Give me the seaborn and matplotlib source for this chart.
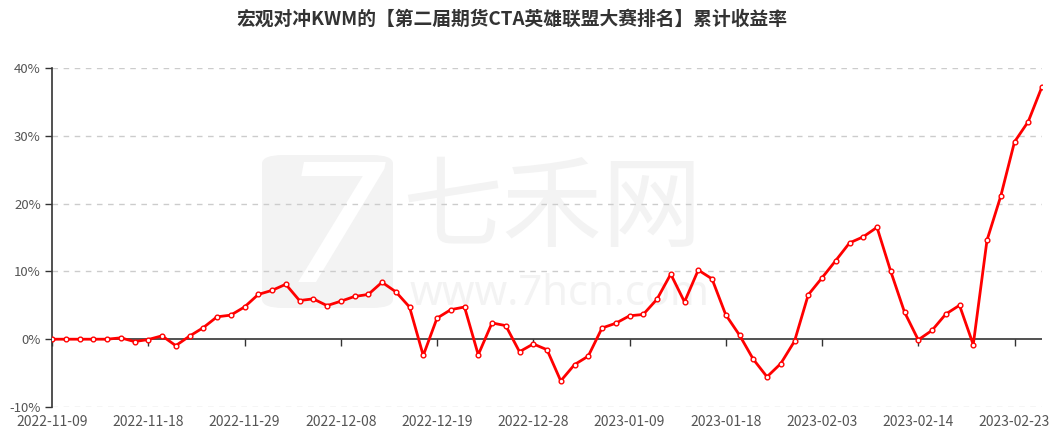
import matplotlib
matplotlib.use("Agg")
import matplotlib.pyplot as plt
from matplotlib.patches import FancyBboxPatch
import seaborn as sns
import pandas as pd
import numpy as np

dates = ["2022-11-09","2022-11-10","2022-11-11","2022-11-14","2022-11-15","2022-11-16","2022-11-17","2022-11-18",
         "2022-11-21","2022-11-22","2022-11-23","2022-11-24","2022-11-25","2022-11-28","2022-11-29",
         "2022-11-30","2022-12-01","2022-12-02","2022-12-05","2022-12-06","2022-12-07","2022-12-08",
         "2022-12-09","2022-12-12","2022-12-13","2022-12-14","2022-12-15","2022-12-16","2022-12-19",
         "2022-12-20","2022-12-21","2022-12-22","2022-12-23","2022-12-26","2022-12-27","2022-12-28",
         "2022-12-29","2022-12-30","2023-01-03","2023-01-04","2023-01-05","2023-01-06","2023-01-09",
         "2023-01-10","2023-01-11","2023-01-12","2023-01-13","2023-01-16","2023-01-17","2023-01-18",
         "2023-01-19","2023-01-20","2023-01-30","2023-01-31","2023-02-01","2023-02-02","2023-02-03",
         "2023-02-06","2023-02-07","2023-02-08","2023-02-09","2023-02-10","2023-02-13","2023-02-14",
         "2023-02-15","2023-02-16","2023-02-17","2023-02-20","2023-02-21","2023-02-22","2023-02-23",
         "2023-02-24","2023-02-27"]

returns = [0.0, 0.0, 0.0, 0.0, 0.0, 0.2, -0.35, -0.05,
           0.5, -0.95, 0.45, 1.7, 3.3, 3.55, 4.75,
           6.6, 7.2, 8.1, 5.7, 5.95, 4.95, 5.6,
           6.3, 6.6, 8.4, 7.0, 4.75, -2.4, 3.1,
           4.35, 4.75, -2.3, 2.4, 2.0, -1.85, -0.7,
           -1.55, -6.15, -3.75, -2.5, 1.65, 2.35, 3.45,
           3.65, 5.9, 9.6, 5.5, 10.2, 8.9, 3.6,
           0.6, -2.95, -5.55, -3.6, -0.3, 6.55, 9.05,
           11.6, 14.2, 15.1, 16.5, 10.0, 4.0, -0.1,
           1.3, 3.7, 5.0, -0.8, 14.6, 21.1, 29.1,
           32.1, 37.25]

yticks = [-10, 0, 10, 20, 30, 40]
ytick_labels = ["-10%", "0%", "10%", "20%", "30%", "40%"]
title = "宏观对冲KWM的【第二届期货CTA英雄联盟大赛排名】累计收益率"

df = pd.DataFrame({"idx": np.arange(len(dates)), "ret": returns})

sns.set_theme(style="white")
plt.rcParams["font.family"] = ["Noto Sans CJK SC", "DejaVu Sans"]

W, H = 1063, 437
fig = plt.figure(figsize=(W / 100, H / 100), dpi=100)
ax = fig.add_axes([52/W, 1-407/H, (1042-52)/W, (407-68)/H])

# watermark, drawn inside the axes beneath everything else
wm = "#f3f3f3"
logo = FancyBboxPatch((262/W, 1-308/H), (393-262)/W, (308-155)/H,
                      boxstyle="round,pad=0,rounding_size=0.02", transform=fig.transFigure,
                      facecolor=wm, edgecolor="none", zorder=0.1, clip_on=False)
ax.add_patch(logo)
ax.text(335/W, 1-236/H, "7", transform=fig.transFigure, fontsize=118, color="white",
        ha="center", va="center", style="italic", family=["DejaVu Sans"], zorder=0.2)
ax.text(552/W, 1-210/H, "七禾网", transform=fig.transFigure, fontsize=72, color=wm,
        ha="center", va="center", zorder=0.2)
ax.text(560/W, 1-294/H, "www.7hcn.com", transform=fig.transFigure, fontsize=30, color=wm,
        ha="center", va="center", family=["Noto Sans", "DejaVu Sans"], zorder=0.2)

sns.lineplot(data=df, x="idx", y="ret", ax=ax, color="#ff0000", linewidth=2,
             marker="o", markersize=3.4, markerfacecolor="white",
             markeredgecolor="#ff0000", markeredgewidth=1, zorder=5)

ax.set_xlim(0, len(dates) - 1)
ax.set_ylim(-10, 40)

for y in [-10, 10, 20, 30, 40]:
    ax.axhline(y, color="#cccccc", linestyle=(0, (4, 4)), linewidth=1, zorder=1)
ax.axhline(0, color="#333333", linewidth=1.2, zorder=2)

ax.set_yticks(yticks)
ax.set_yticklabels(ytick_labels)
tick_idx = list(range(0, len(dates), 7))
ax.set_xticks(tick_idx)
ax.set_xticklabels([dates[i] for i in tick_idx])
ax.tick_params(axis="x", length=0, pad=6, labelsize=10, labelcolor="#555555")
ax.tick_params(axis="y", length=5, width=1, color="#333333", left=True, pad=3,
               labelsize=9.5, labelcolor="#555555")

# zero-line ticks
sec = ax.secondary_xaxis(0.2)
sec.set_xticks(tick_idx)
sec.set_xticklabels([])
sec.tick_params(axis="x", length=5, width=1, color="#333333", direction="out")
sec.spines["bottom"].set_visible(False)

for s in ["top", "right", "bottom"]:
    ax.spines[s].set_visible(False)
ax.spines["left"].set_color("#333333")
ax.spines["left"].set_linewidth(1.2)
ax.set_xlabel("")
ax.set_ylabel("")

fig.text(512/W, 1-19/H, title, ha="center", va="center", fontsize=13.5,
         fontweight="bold", color="#333333")

fig.savefig("out.png", dpi=100)
